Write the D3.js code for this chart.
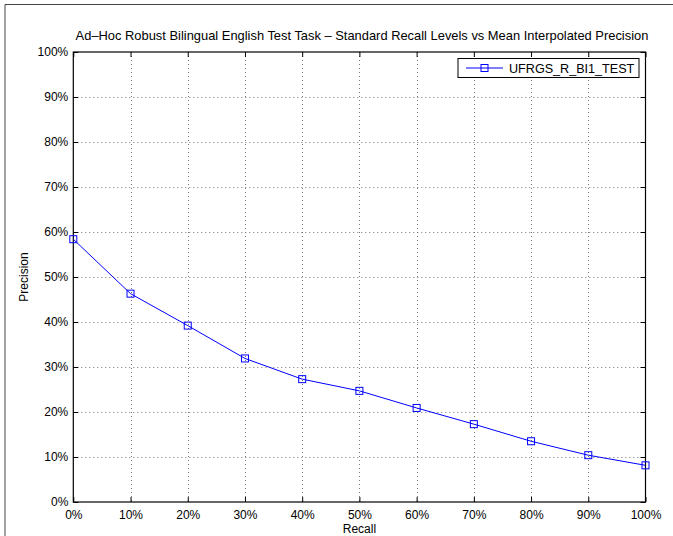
<!DOCTYPE html>
<html><head><meta charset="utf-8">
<script src="https://cdn.jsdelivr.net/npm/d3@7"></script>
<style>body{margin:0;background:#fff}svg{display:block}text{font-family:"Liberation Sans",Arial,sans-serif;fill:#000}</style>
</head><body><svg id="c" width="673" height="536"></svg>
<script>
const recall = [0,0.1,0.2,0.3,0.4,0.5,0.6,0.7,0.8,0.9,1.0];
const precision = [0.584,0.463,0.392,0.319,0.273,0.247,0.209,0.173,0.135,0.104,0.0815];
const xTicks = [0,0.1,0.2,0.3,0.4,0.5,0.6,0.7,0.8,0.9,1.0];
const yTicks = [0,0.1,0.2,0.3,0.4,0.5,0.6,0.7,0.8,0.9,1.0];
const seriesName = "UFRGS_R_BI1_TEST";
const titleText = "Ad–Hoc Robust Bilingual English Test Task – Standard Recall Levels vs Mean Interpolated Precision";

const svg = d3.select("#c");
const L=73.3, R=645.5, T=52, B=502;
const x = d3.scaleLinear().domain([0,1]).range([L,R]);
const y = d3.scaleLinear().domain([0,1]).range([B,T]);
const fmt = d => Math.round(d*100)+"%";

// figure frame
svg.append("path").attr("d","M5,536V4.5H673").attr("fill","none").attr("stroke","#444").attr("stroke-width",1);

// grid
const g = svg.append("g");
g.selectAll(".gx").data(xTicks.slice(1,-1)).join("line")
 .attr("x1",d=>Math.round(x(d))+0.5).attr("x2",d=>Math.round(x(d))+0.5).attr("y1",T).attr("y2",B)
 .attr("stroke","#777").attr("stroke-dasharray","1,3").attr("stroke-width",1);
g.selectAll(".gy").data(yTicks.slice(1,-1)).join("line")
 .attr("y1",d=>Math.round(y(d))+0.5).attr("y2",d=>Math.round(y(d))+0.5).attr("x1",L).attr("x2",R)
 .attr("stroke","#777").attr("stroke-dasharray","1,3").attr("stroke-width",1);

// axes (ticks inside)
const ax = svg.append("g").attr("transform",`translate(0,${B})`)
 .call(d3.axisBottom(x).tickValues(xTicks).tickFormat(fmt).tickSizeInner(-5).tickSizeOuter(0).tickPadding(8));
const axT = svg.append("g").attr("transform",`translate(0,${T})`)
 .call(d3.axisTop(x).tickValues(xTicks).tickFormat("").tickSizeInner(-5).tickSizeOuter(0));
const ay = svg.append("g").attr("transform",`translate(${L},0)`)
 .call(d3.axisLeft(y).tickValues(yTicks).tickFormat(fmt).tickSizeInner(-5).tickSizeOuter(0).tickPadding(5));
const ayR = svg.append("g").attr("transform",`translate(${R},0)`)
 .call(d3.axisRight(y).tickValues(yTicks).tickFormat("").tickSizeInner(-5).tickSizeOuter(0));
[ax,axT,ay,ayR].forEach(a=>{a.select(".domain").remove();a.selectAll("line").attr("stroke","#000");a.selectAll("text").attr("font-size",12).attr("font-family",'"Liberation Sans",Arial,sans-serif').attr("fill","#000");});
ay.selectAll("text").attr("dy","0.32em");

svg.append("rect").attr("x",L).attr("y",T).attr("width",R-L).attr("height",B-T).attr("fill","none").attr("stroke","#000").attr("stroke-width",1.2);

// line
svg.append("path").datum(recall.map((r,i)=>[r,precision[i]]))
 .attr("d",d3.line().x(d=>x(d[0])).y(d=>y(d[1]))).attr("fill","none").attr("stroke","#0000ff").attr("stroke-width",1);
svg.selectAll(".m").data(recall.map((r,i)=>[r,precision[i]])).join("rect")
 .attr("x",d=>x(d[0])-3.5).attr("y",d=>y(d[1])-3.5).attr("width",7).attr("height",7)
 .attr("fill","none").attr("stroke","#0000ff").attr("stroke-width",1);

// title & labels
svg.append("text").attr("x",362).attr("y",40).attr("text-anchor","middle").attr("font-size",12.9).text(titleText);
svg.append("text").attr("x",(L+R)/2).attr("y",533).attr("text-anchor","middle").attr("font-size",12).text("Recall");
svg.append("text").attr("transform",`translate(28,${(T+B)/2}) rotate(-90)`).attr("text-anchor","middle").attr("font-size",12).text("Precision");

// legend
const lg = svg.append("g");
lg.append("rect").attr("x",458).attr("y",58.5).attr("width",181).attr("height",19).attr("fill","#fff").attr("stroke","#000").attr("stroke-width",1);
lg.append("line").attr("x1",466).attr("x2",503).attr("y1",68).attr("y2",68).attr("stroke","#0000ff");
lg.append("rect").attr("x",481).attr("y",64.5).attr("width",7).attr("height",7).attr("fill","none").attr("stroke","#0000ff");
lg.append("text").attr("x",509).attr("y",72.5).attr("font-size",12.6).text(seriesName);
</script></body></html>
